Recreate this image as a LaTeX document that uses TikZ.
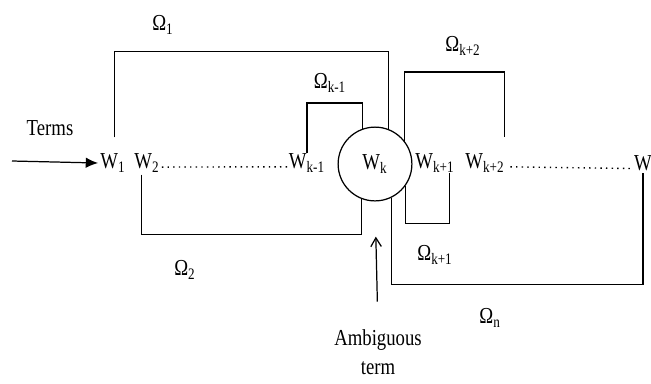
\documentclass[tikz,border=0pt]{standalone}
\usepackage{fontspec}
\setmainfont{Liberation Serif}[FakeStretch=0.82]
\usepackage{tikz}
\usetikzlibrary{arrows.meta}

\begin{document}
\begin{tikzpicture}[x=0.02cm,y=-0.02cm,line width=0.7pt,
  every node/.style={inner sep=0pt,font=\fontsize{13}{15}\selectfont}]
\useasboundingbox (0,0) rectangle (651,383);
% terms
\node (w1) at (113,163) {W\textsubscript{1}};
\node (w2) at (147,163) {W\textsubscript{2}};
\node (wkm) at (307,163) {W\textsubscript{k-1}};
\node[draw,circle,minimum size=42pt] (wk) at (375,164) {W\textsubscript{k}};
\node (wkp1) at (435,163) {W\textsubscript{k+1}};
\node (wkp2) at (485,163) {W\textsubscript{k+2}};
\node (wn) at (643,163) {W};
\draw[line width=0.8pt,dash pattern=on 0.8pt off 2.4pt] ([yshift=1pt,xshift=1pt]w2.base east) -- ([yshift=1pt]wkm.base west);
\draw[line width=0.8pt,dash pattern=on 0.8pt off 2.4pt] ([yshift=1pt,xshift=3pt]wkp2.base east) -- ([yshift=1pt,xshift=-1pt]wn.base west);
% input
\node (terms) at (50,128) {Terms};
\coordinate (in) at (12,161);
\draw[-{Latex[length=7pt,width=6pt]}] (in) -- ([xshift=-1pt]w1.west);
\node[align=center,font=\fontsize{13}{16.5}\selectfont] (amb) at (378,352) {Ambiguous\\term};
\draw[-{Straight Barb[length=5pt,width=6pt]},shorten <=15.5pt,shorten >=20pt] (amb.north) -- (wk.south);
% brackets
\draw ([yshift=9pt,xshift=1pt]w1.north) -- ++(0,-86) -| (wk.69);
\draw (wkm.north) -- ++(0,-50) -| (wk.110.6);
\draw (wk.38) -- ++(0,-69) -| ([yshift=9pt,xshift=-0.5pt]wkp2.north east);
\draw ([xshift=-3pt,yshift=-1pt]w2.south) -- ++(0,60) -| (wk.249);
\draw (wk.-35) -- ++(0,38) -| ([xshift=-3pt]wkp1.south east);
\draw (wk.-64) -- ++(0,87) -| ([yshift=-1pt]wn.south);
% labels
\node (om1) at (163,25) {Ω\textsubscript{1}};
\node (omkm) at (330,83) {Ω\textsubscript{k-1}};
\node (omkp2) at (463,46) {Ω\textsubscript{k+2}};
\node (om2) at (185,270) {Ω\textsubscript{2}};
\node (omkp1) at (435,255) {Ω\textsubscript{k+1}};
\node (omn) at (490,318) {Ω\textsubscript{n}};
\end{tikzpicture}
\end{document}
